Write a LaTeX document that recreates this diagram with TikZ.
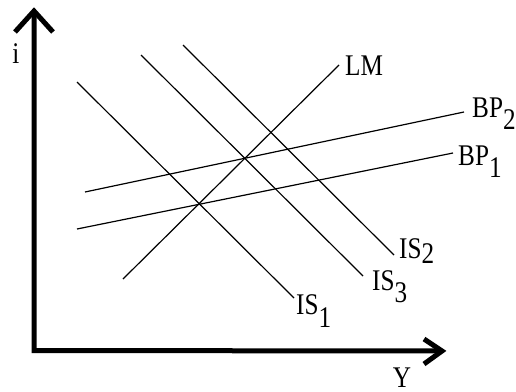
\documentclass[tikz,border=0pt]{standalone}
\usepackage{fontspec}
\setmainfont{Liberation Serif}
\newcommand{\lbl}[1]{\scalebox{0.84}[1]{#1}}
\newcommand{\lowsub}[2][12pt]{\raisebox{-#1}{#2}}
\begin{document}
\begin{tikzpicture}[x=1pt,y=-1pt,
  axis/.style={line width=5pt,line cap=butt,line join=miter},
  curve/.style={line width=1.2pt},
  lab/.style={inner sep=0pt,anchor=base west,font=\fontsize{30}{31}\selectfont}]
\useasboundingbox (0,0) rectangle (516,391);
% axes
\coordinate (o) at (34,350.5);
\coordinate (yt) at (34,11);
\coordinate (xt) at (442,351);
\coordinate (ya) at (15,32);
\coordinate (yb) at (53,32);
\coordinate (xa) at (424,339);
\coordinate (xb) at (424,364);
\draw[axis] (yt) -- (o) -- (xt);
\draw[axis] (ya) -- (yt) -- (yb);
\draw[axis] (xa) -- (xt) -- (xb);
\node[lab,anchor=base] (ilab) at (16,63) {\lbl{i}};
\node[lab,anchor=base] (ylab) at (402,387) {\lbl{Y}};
% curves
\coordinate (is1a) at (77,82);   \coordinate (is1b) at (294,298);
\coordinate (is3a) at (141,55);  \coordinate (is3b) at (363,276);
\coordinate (is2a) at (183,45);  \coordinate (is2b) at (394,255);
\coordinate (lma) at (123,279);  \coordinate (lmb) at (339,65);
\coordinate (bp2a) at (85,192);  \coordinate (bp2b) at (464,112);
\coordinate (bp1a) at (77,229);  \coordinate (bp1b) at (453,153);
\draw[curve] (is1a) -- (is1b);
\draw[curve] (is3a) -- (is3b);
\draw[curve] (is2a) -- (is2b);
\draw[curve] (lma) -- (lmb);
\draw[curve] (bp2a) -- (bp2b);
\draw[curve] (bp1a) -- (bp1b);
% labels
\node[lab] (lmlab) at (345,75) {\lbl{LM}};
\node[lab] (bp2lab) at (472,117) {\lbl{BP\lowsub{2}}};
\node[lab] (bp1lab) at (458,165) {\lbl{BP\lowsub{1}}};
\node[lab] (is2lab) at (399,258) {\lbl{IS\lowsub[5pt]{2}}};
\node[lab] (is3lab) at (372,290) {\lbl{IS\lowsub{3}}};
\node[lab] (is1lab) at (296,314) {\lbl{IS\lowsub[13pt]{1}}};
\end{tikzpicture}
\end{document}
